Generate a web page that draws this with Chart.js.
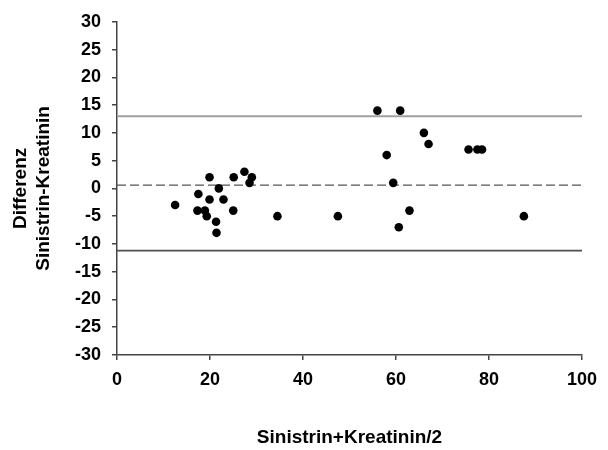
<!DOCTYPE html>
<html>
<head>
<meta charset="utf-8">
<script src="https://cdn.jsdelivr.net/npm/chart.js@4/dist/chart.umd.min.js"></script>
<style>
  html, body { margin: 0; padding: 0; background: #ffffff; }
  #wrap { width: 608px; height: 450px; }
</style>
</head>
<body>
<div id="wrap"><canvas id="c" width="608" height="450"></canvas></div>
<script>
// Mean of both methods (x) and their difference (y)
const meanValues = [12.5, 17.3, 17.5, 18.9, 19.3, 19.9, 19.9, 21.3, 21.4, 21.9, 22.9, 25.1, 25.0, 27.4, 29.0, 28.5, 34.5, 47.5, 56.0, 60.9, 66.0, 67.0, 58.0, 75.6, 77.5, 78.5, 59.4, 62.9, 60.6, 87.5];
const diffValues = [-3, -4, -1, -4, -5, 2, -2, -6, -8, 0, -2, 2, -4, 3, 2, 1, -5, -5, 14, 14, 10, 8, 6, 7, 7, 7, 1, -4, -7, -5];

// Bland-Altman reference lines
const lineX = [0, 100];
const upperLimit = 13.0;
const meanDiff = 0.6;
const lowerLimit = -11.2;

// Axis ticks / titles
const xMin = 0, xMax = 100, xStep = 20;
const yMin = -30, yMax = 30, yStep = 5;
const xTitle = 'Sinistrin+Kreatinin/2';
const yTitle = ['Differenz', 'Sinistrin-Kreatinin'];

const pts = meanValues.map((x, i) => ({ x: x, y: diffValues[i] }));
const hline = v => lineX.map(x => ({ x: x, y: v }));

const FONT = '"Liberation Sans", Arial, sans-serif';

new Chart(document.getElementById('c'), {
  type: 'scatter',
  data: {
    datasets: [
      {
        label: 'upper',
        data: hline(upperLimit),
        showLine: true,
        borderColor: '#a0a0a0',
        borderWidth: 2,
        pointRadius: 0,
        order: 2
      },
      {
        label: 'mean',
        data: hline(meanDiff),
        showLine: true,
        borderColor: '#555555',
        borderWidth: 1.2,
        borderDash: [9, 4],
        pointRadius: 0,
        order: 2
      },
      {
        label: 'lower',
        data: hline(lowerLimit),
        showLine: true,
        borderColor: '#505050',
        borderWidth: 1.6,
        pointRadius: 0,
        order: 2
      },
      {
        label: 'Differenz',
        data: pts,
        backgroundColor: '#000000',
        borderColor: '#000000',
        pointRadius: 4.3,
        pointHoverRadius: 4.3,
        borderWidth: 0,
        order: 1
      }
    ]
  },
  options: {
    responsive: false,
    devicePixelRatio: 1,
    animation: false,
    events: [],
    layout: { padding: { left: 0, right: 26, top: 20, bottom: 0 } },
    plugins: {
      legend: { display: false },
      tooltip: { enabled: false }
    },
    scales: {
      x: {
        type: 'linear',
        min: xMin,
        max: xMax,
        afterFit: s => { s.height = 95; },
        ticks: {
          stepSize: xStep,
          color: '#000000',
          padding: 9,
          font: { family: FONT, size: 18, weight: 'bold' }
        },
        grid: { drawOnChartArea: false, drawTicks: true, tickLength: 5, color: '#444444', lineWidth: 1.5 },
        border: { display: true, color: '#444444', width: 1.5 },
        title: {
          display: true,
          text: xTitle,
          color: '#000000',
          font: { family: FONT, size: 19, weight: 'bold', lineHeight: 1.25 },
          padding: { top: 0, bottom: 0.5 }
        }
      },
      y: {
        type: 'linear',
        min: yMin,
        max: yMax,
        afterFit: s => { s.width = 117; },
        ticks: {
          stepSize: yStep,
          color: '#000000',
          padding: 11,
          font: { family: FONT, size: 18, weight: 'bold' }
        },
        grid: { drawOnChartArea: false, drawTicks: true, tickLength: 5, color: '#444444', lineWidth: 1.5 },
        border: { display: true, color: '#444444', width: 1.5 },
        title: {
          display: true,
          text: yTitle,
          color: '#000000',
          font: { family: FONT, size: 19, weight: 'bold', lineHeight: 1.22 },
          padding: { top: 9, bottom: 0 }
        }
      }
    }
  }
});
</script>
</body>
</html>
